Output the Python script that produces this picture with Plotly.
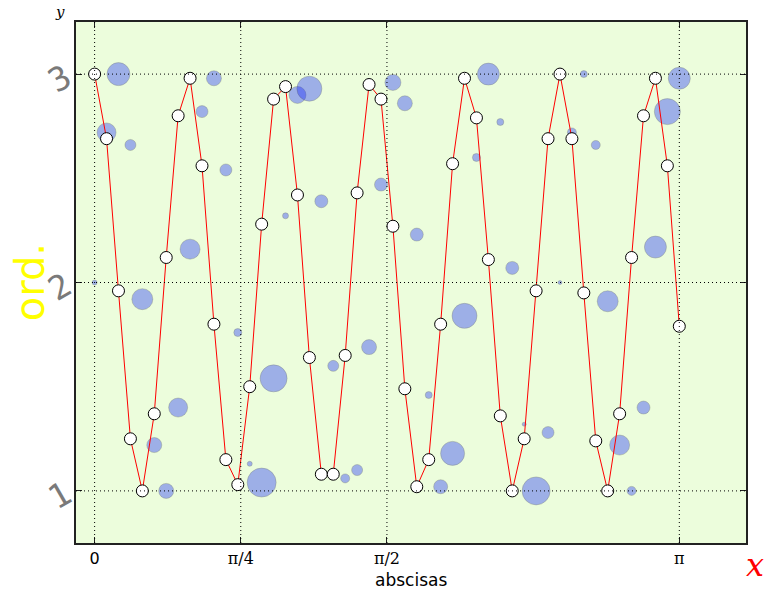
import numpy as np
import plotly.graph_objects as go

# sample positions (50 samples over [0, pi])
x = np.linspace(0, np.pi, 50)

# red line values
line_y = [3.00, 2.69, 1.96, 1.25, 1.00, 1.37, 2.12, 2.80, 2.98, 2.56,
          1.80, 1.15, 1.03, 1.50, 2.28, 2.88, 2.94, 2.42, 1.64, 1.08,
          1.08, 1.65, 2.43, 2.95, 2.88, 2.27, 1.49, 1.02, 1.15, 1.80,
          2.57, 2.98, 2.79, 2.11, 1.36, 1.00, 1.25, 1.96, 2.69, 3.00,
          2.69, 1.95, 1.24, 1.00, 1.37, 2.12, 2.80, 2.98, 2.56, 1.79]

# bubble values and diameters
bub_y = [2.00, 2.72, 3.00, 2.66, 1.92, 1.22, 1.00, 1.40, 2.16, 2.82,
         2.98, 2.54, 1.76, 1.13, 1.04, 1.54, 2.32, 2.90, 2.93, 2.39,
         1.60, 1.06, 1.10, 1.69, 2.47, 2.96, 2.86, 2.23, 1.46, 1.02,
         1.18, 1.84, 2.60, 3.00, 2.77, 2.07, 1.32, 1.00, 1.28, 2.00,
         2.72, 3.00, 2.66, 1.91, 1.22, 1.00, 1.40, 2.17, 2.82, 2.98]
bub_d = [5, 19, 23, 11, 21, 15, 15, 19, 20, 12,
         15, 12, 8, 5, 29, 27, 6, 17, 25, 13,
         11, 9, 11, 15, 13, 16, 15, 13, 7, 14,
         24, 25, 8, 22, 7, 13, 4, 28, 12, 4,
         9, 7, 9, 21, 20, 9, 13, 22, 26, 22]

xtick_vals = [0, np.pi / 4, np.pi / 2, np.pi]
xtick_text = ['<span style="font-family:DejaVu Sans;font-size:16px">0</span>',
              'π/4', 'π/2', 'π']
ytick_vals = [1, 2, 3]
ytick_text = ['1', '2', '3']

fig = go.Figure()
fig.add_trace(go.Scatter(
    x=x, y=bub_y, mode='markers',
    marker=dict(size=bub_d, color='rgba(0,20,255,0.47)',
                line=dict(color='rgba(60,60,40,0.3)', width=1)),
    showlegend=False, hoverinfo='skip'))
fig.add_trace(go.Scatter(
    x=x, y=line_y, mode='lines+markers',
    line=dict(color='red', width=1),
    marker=dict(size=12, color='white', line=dict(color='black', width=1)),
    showlegend=False))

# dotted grid drawn above data (as in reference)
for v in xtick_vals:
    fig.add_shape(type='line', xref='x', yref='paper', x0=v, x1=v, y0=0, y1=1,
                  line=dict(color='black', width=1, dash='1px,3px'), layer='above')
for v in ytick_vals:
    fig.add_shape(type='line', xref='paper', yref='y', x0=0, x1=1, y0=v, y1=v,
                  line=dict(color='black', width=1, dash='1px,3px'), layer='above')

fig.update_xaxes(range=[-0.1, 3.5], tickmode='array', tickvals=xtick_vals,
                 ticktext=xtick_text, ticks='inside', ticklen=6, tickcolor='#222',
                 tickwidth=1.2, showgrid=False, zeroline=False,
                 showline=True, linecolor='#222', linewidth=1.5, mirror='ticks',
                 tickfont=dict(family='DejaVu Serif', size=16, color='black'))
fig.update_yaxes(range=[0.75, 3.25], tickmode='array', tickvals=ytick_vals,
                 ticktext=ytick_text, ticks='inside', ticklen=6, tickcolor='#222',
                 tickwidth=1.2, showgrid=False, zeroline=False,
                 showline=True, linecolor='#222', linewidth=1.5, mirror='ticks',
                 tickangle=-30, ticklabelstandoff=2,
                 tickfont=dict(family='DejaVu Sans Mono', size=33, color='#7a7a7a'))

fig.add_annotation(text='ord.', xref='paper', yref='paper', x=-0.069, y=0.5,
                   xanchor='center', yanchor='middle',
                   textangle=-90, showarrow=False,
                   font=dict(family='DejaVu Sans', size=40, color='yellow'))
fig.add_annotation(text='abscisas', xref='paper', yref='paper', x=0.5, y=-0.071,
                   xanchor='center', yanchor='middle', showarrow=False,
                   font=dict(family='DejaVu Sans', size=17, color='black'))
fig.add_annotation(text='<i>y</i>', xref='paper', yref='paper', x=-0.024, y=1.02,
                   xanchor='center', yanchor='middle', showarrow=False,
                   font=dict(family='DejaVu Serif', size=15, color='black'))
fig.add_annotation(text='<i>x</i>', xref='paper', yref='paper', x=1.0134, y=-0.042,
                   xanchor='center', yanchor='middle', showarrow=False,
                   font=dict(family='DejaVu Serif', size=32, color='red'))

fig.update_layout(width=765, height=591,
                  margin=dict(l=76, r=19, t=22, b=48),
                  plot_bgcolor='#ecfddc', paper_bgcolor='white')

fig.write_html('out.html')
